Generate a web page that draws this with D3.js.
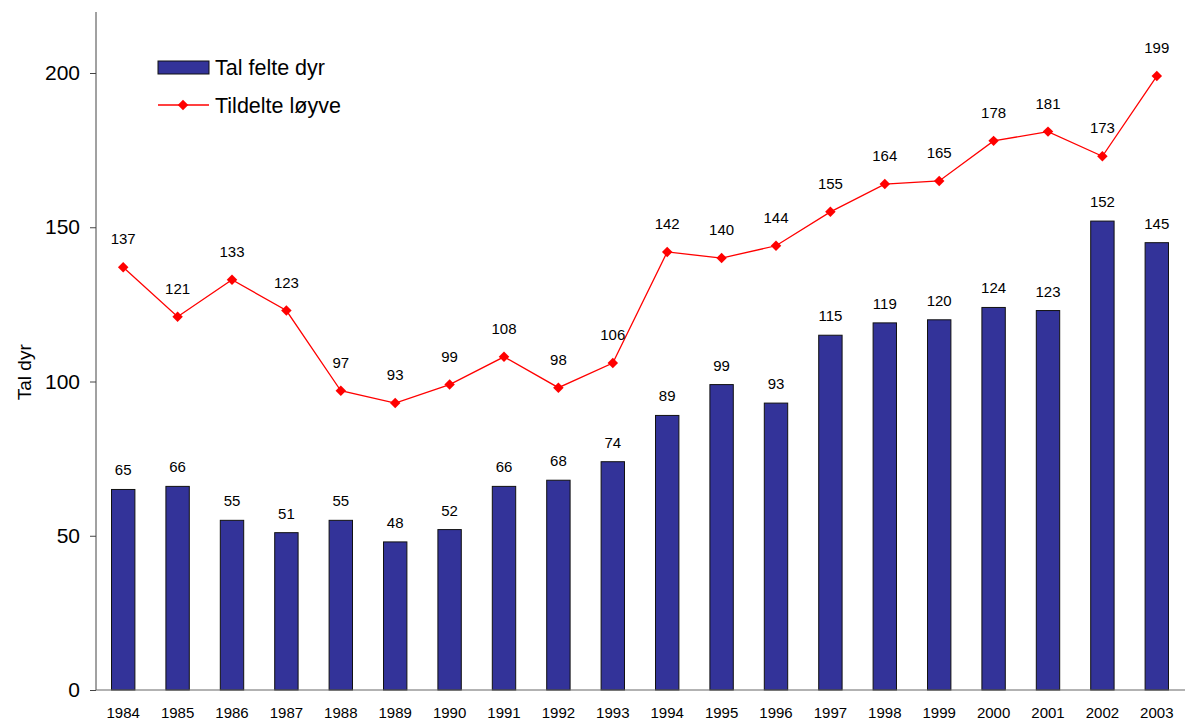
<!DOCTYPE html>
<html>
<head>
<meta charset="utf-8">
<script src="https://cdn.jsdelivr.net/npm/d3@7"></script>
<style>
  body { margin: 0; background: #fff; }
  svg { display: block; font-family: "Liberation Sans", Arial, sans-serif; }
</style>
</head>
<body>
<div id="chart"></div>
<script>
// data
const years = ['1984', '1985', '1986', '1987', '1988', '1989', '1990', '1991', '1992', '1993',
  '1994', '1995', '1996', '1997', '1998', '1999', '2000', '2001', '2002', '2003'];
const felte = [65, 66, 55, 51, 55, 48, 52, 66, 68, 74, 89, 99, 93, 115, 119, 120, 124, 123, 152, 145];
const loyve = [137, 121, 133, 123, 97, 93, 99, 108, 98, 106, 142, 140, 144, 155, 164, 165, 178, 181, 173, 199];
const yTicks = [0, 50, 100, 150, 200];
const seriesNames = ['Tal felte dyr', 'Tildelte løyve'];

const chartWidth = 1186, chartHeight = 722;
const plotLeft = 96, plotRight = 1184, plotTop = 12, plotBottom = 690;

const svg = d3.select('#chart').append('svg')
  .attr('width', chartWidth)
  .attr('height', chartHeight);

const x = d3.scaleBand().domain(years).range([plotLeft, plotRight]).padding(0);
const y = d3.scaleLinear().domain([0, 220]).range([plotBottom, 11.3]);
const barW = x.bandwidth() * 0.43;
const cx = i => x(years[i]) + x.bandwidth() / 2;

// y axis
const yAxis = svg.append('g')
  .attr('transform', 'translate(' + plotLeft + ',0)')
  .call(d3.axisLeft(y).tickValues(yTicks).tickSize(6).tickPadding(10));
yAxis.select('.domain').attr('d', 'M0,' + plotBottom + 'V' + plotTop).attr('stroke', '#444');
yAxis.selectAll('.tick line').attr('stroke', '#444');
yAxis.selectAll('.tick text').attr('font-size', 21).attr('fill', '#000')
  .attr('font-family', '"Liberation Sans", Arial, sans-serif');

// bars
svg.append('g').selectAll('rect')
  .data(felte)
  .join('rect')
  .attr('x', (d, i) => cx(i) - barW / 2)
  .attr('y', d => y(d))
  .attr('width', barW)
  .attr('height', d => y(0) - y(d))
  .attr('fill', '#333399')
  .attr('stroke', '#111')
  .attr('stroke-width', 1);

// x axis
const xAxis = svg.append('g')
  .attr('transform', 'translate(0,' + plotBottom + ')')
  .call(d3.axisBottom(x).tickSize(0).tickPadding(17));
xAxis.select('.domain').attr('d', 'M' + plotLeft + ',0H' + (plotRight + 1)).attr('stroke', '#666');
xAxis.selectAll('.tick text').attr('font-size', 15).attr('fill', '#000')
  .attr('font-family', '"Liberation Sans", Arial, sans-serif');

// bar labels
svg.append('g').selectAll('text')
  .data(felte)
  .join('text')
  .attr('x', (d, i) => cx(i))
  .attr('y', d => y(d) - 14)
  .attr('text-anchor', 'middle')
  .attr('font-size', 15)
  .text(d => d);

// line
const line = d3.line()
  .x((d, i) => cx(i))
  .y(d => y(d));

svg.append('path')
  .attr('d', line(loyve))
  .attr('fill', 'none')
  .attr('stroke', '#ff0000')
  .attr('stroke-width', 1.3);

const diamond = d3.symbol().type(d3.symbolDiamond2).size(70);
svg.append('g').selectAll('path')
  .data(loyve)
  .join('path')
  .attr('transform', (d, i) => 'translate(' + cx(i) + ',' + y(d) + ')')
  .attr('d', diamond)
  .attr('fill', '#ff0000');

svg.append('g').selectAll('text')
  .data(loyve)
  .join('text')
  .attr('x', (d, i) => cx(i))
  .attr('y', d => y(d) - 23)
  .attr('text-anchor', 'middle')
  .attr('font-size', 15)
  .text(d => d);

// y title
svg.append('text')
  .attr('transform', 'translate(31,' + y(103) + ') rotate(-90)')
  .attr('text-anchor', 'middle')
  .attr('font-size', 19)
  .text('Tal dyr');

// legend
const legend = svg.append('g');
legend.append('rect')
  .attr('x', 158).attr('y', 61)
  .attr('width', 51).attr('height', 13)
  .attr('fill', '#333399').attr('stroke', '#111');
legend.append('text')
  .attr('x', 215).attr('y', 75)
  .attr('font-size', 21.5)
  .text(seriesNames[0]);
legend.append('line')
  .attr('x1', 158).attr('x2', 209)
  .attr('y1', 105).attr('y2', 105)
  .attr('stroke', '#ff0000').attr('stroke-width', 1.3);
legend.append('path')
  .attr('transform', 'translate(183,105)')
  .attr('d', diamond)
  .attr('fill', '#ff0000');
legend.append('text')
  .attr('x', 215).attr('y', 113)
  .attr('font-size', 21.5)
  .text(seriesNames[1]);
</script>
</body>
</html>
